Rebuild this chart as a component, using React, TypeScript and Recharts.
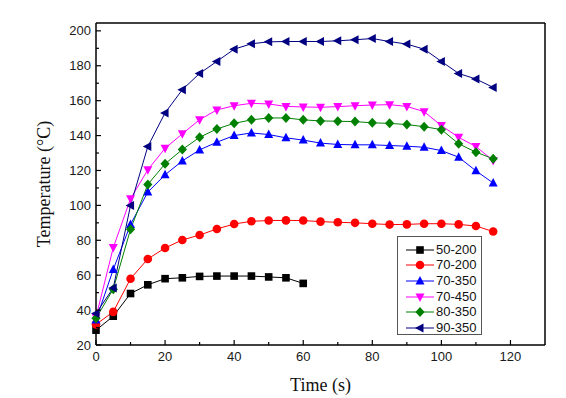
import { LineChart, Line, XAxis, YAxis, ReferenceLine } from "recharts";

// time axis (s)
const times = [0, 5, 10, 15, 20, 25, 30, 35, 40, 45, 50, 55, 60, 65, 70, 75, 80, 85, 90, 95, 100, 105, 110, 115];

// temperatures (°C)
const s50_200 = [28.5, 36.5, 49.5, 54.5, 58, 58.5, 59.3, 59.5, 59.5, 59.5, 59, 58.5, 55.3];
const s70_200 = [31.8, 39, 58, 69.3, 75.6, 80.2, 83, 86.5, 89.3, 90.9, 91.3, 91.4, 91.3, 90.7, 90.3, 90, 89.5, 89, 89.1, 89.5, 89.5, 89.1, 88.2, 85];
const s70_350 = [34.3, 63.3, 89.1, 107.6, 117.5, 125.5, 131.8, 136.2, 140, 141.5, 140.6, 138.7, 137.4, 135.7, 134.9, 134.7, 134.7, 134.3, 133.9, 133.3, 131.4, 127.6, 119.8, 112.8];
const s70_450 = [36, 75.8, 103.8, 120.4, 132.7, 141, 149.1, 154.7, 157.1, 158.5, 158.1, 156.7, 156.4, 156.2, 156.6, 157.1, 157.5, 157.7, 156.7, 153.7, 145.7, 139, 133.7, 125.7];
const s80_350 = [35.3, 52, 86.3, 112, 123.8, 132, 139, 143.8, 147, 149, 150.1, 150.1, 149, 148.4, 148.2, 148, 147.3, 147, 146.3, 145.1, 143.4, 135.3, 130.5, 126.7];
const s90_350 = [38.1, 52.7, 100, 133.7, 153, 166.3, 175.6, 182.5, 189.5, 192.6, 193.7, 193.9, 193.9, 193.9, 194.3, 194.9, 195.6, 193.9, 192.4, 189.5, 182.5, 175.6, 172.4, 167.6];

const xTicks = [0, 10, 20, 30, 40, 50, 60, 70, 80, 90, 100, 110, 120];
const yTicks = [20, 30, 40, 50, 60, 70, 80, 90, 100, 110, 120, 130, 140, 150, 160, 170, 180, 190, 200];
const X_MAX = 130;
const Y_MIN = 20;
const Y_MAX = 204.5;

type Shape = "square" | "circle" | "up" | "down" | "diamond" | "left";

const series: { key: string; name: string; color: string; shape: Shape; values: number[] }[] = [
  { key: "a", name: "50-200", color: "#000000", shape: "square", values: s50_200 },
  { key: "b", name: "70-200", color: "#ff0000", shape: "circle", values: s70_200 },
  { key: "c", name: "70-350", color: "#0000ff", shape: "up", values: s70_350 },
  { key: "d", name: "70-450", color: "#ff00ff", shape: "down", values: s70_450 },
  { key: "e", name: "80-350", color: "#008000", shape: "diamond", values: s80_350 },
  { key: "f", name: "90-350", color: "#000080", shape: "left", values: s90_350 },
];

const rows = times.map((t, i) => {
  const row: Record<string, number> = { t };
  series.forEach((s) => {
    if (i < s.values.length) row[s.key] = s.values[i];
  });
  return row;
});

const tickFont = "'Liberation Sans', Arial, sans-serif";
const labelFont = "'Liberation Serif', 'Times New Roman', serif";

function Marker({ cx, cy, shape, color }: { cx: number; cy: number; shape: Shape; color: string }) {
  if (cx == null || cy == null || isNaN(cx) || isNaN(cy)) return null;
  const r = 4.5;
  switch (shape) {
    case "square":
      return <rect x={cx - 3.8} y={cy - 3.8} width={7.6} height={7.6} fill={color} />;
    case "circle":
      return <circle cx={cx} cy={cy} r={4.3} fill={color} />;
    case "up":
      return <polygon points={`${cx},${cy - r - 0.5} ${cx - r},${cy + r - 1} ${cx + r},${cy + r - 1}`} fill={color} />;
    case "down":
      return <polygon points={`${cx},${cy + r + 0.5} ${cx - r},${cy - r + 1} ${cx + r},${cy - r + 1}`} fill={color} />;
    case "diamond":
      return <polygon points={`${cx},${cy - 5} ${cx + 4.6},${cy} ${cx},${cy + 5} ${cx - 4.6},${cy}`} fill={color} />;
    case "left":
      return <polygon points={`${cx - r - 0.5},${cy} ${cx + r - 1},${cy - r} ${cx + r - 1},${cy + r}`} fill={color} />;
  }
  return null;
}

function XTick(props: any) {
  const { x, y, payload } = props;
  const v = payload.value as number;
  const major = v % 20 === 0;
  return (
    <g>
      <line x1={x} y1={y} x2={x} y2={y - (major ? 5 : 3)} stroke="#000" strokeWidth={1.2} />
      {major && (
        <text x={x} y={y + 16} textAnchor="middle" fontSize={13} fontFamily={tickFont} fill="#1a1a1a">
          {v}
        </text>
      )}
    </g>
  );
}

function YTick(props: any) {
  const { x, y, payload } = props;
  const v = payload.value as number;
  const major = v % 20 === 0;
  return (
    <g>
      <line x1={x} y1={y} x2={x + (major ? 5 : 3)} y2={y} stroke="#000" strokeWidth={1.2} />
      {major && (
        <text x={x - 5} y={y + 4.5} textAnchor="end" fontSize={13} fontFamily={tickFont} fill="#1a1a1a">
          {v}
        </text>
      )}
    </g>
  );
}

function LegendBox() {
  return (
    <div
      style={{
        position: "absolute",
        left: 397,
        top: 236,
        width: 85,
        height: 99,
        border: "1px solid #555",
        background: "#fff",
        boxSizing: "border-box",
        paddingTop: 5,
      }}
    >
      {series.map((s) => (
        <div key={s.key} style={{ display: "flex", alignItems: "center", height: 15.6 }}>
          <svg width={38} height={14} style={{ display: "block", flex: "none" }}>
            <line x1={8} y1={7} x2={36} y2={7} stroke={s.color} strokeWidth={1} />
            <Marker cx={22} cy={7} shape={s.shape} color={s.color} />
          </svg>
          <span style={{ fontFamily: tickFont, fontSize: 13, color: "#111", lineHeight: "14px", whiteSpace: "nowrap" }}>
            {s.name}
          </span>
        </div>
      ))}
    </div>
  );
}

export default function App() {
  return (
    <div style={{ position: "absolute", left: 0, top: 0, width: 566, height: 398, background: "#fff" }}>
      <LineChart width={566} height={398} data={rows} margin={{ top: 23, right: 21, bottom: 23, left: 36 }}>
        <XAxis
          dataKey="t"
          type="number"
          domain={[0, X_MAX]}
          ticks={xTicks}
          interval={0}
          tickSize={0}
          tickMargin={0}
          tickLine={false}
          tick={<XTick />}
          height={30}
          axisLine={{ stroke: "#000", strokeWidth: 1.5 }}
        />
        <YAxis
          type="number"
          domain={[Y_MIN, Y_MAX]}
          ticks={yTicks}
          interval={0}
          tickSize={0}
          tickMargin={0}
          tickLine={false}
          tick={<YTick />}
          width={60}
          axisLine={{ stroke: "#000", strokeWidth: 1.5 }}
          allowDataOverflow
        />
        <ReferenceLine y={Y_MAX} stroke="#000" strokeWidth={1.5} />
        <ReferenceLine x={X_MAX} stroke="#000" strokeWidth={1.5} />
        {series.map((s) => (
          <Line
            key={s.key}
            dataKey={s.key}
            name={s.name}
            stroke={s.color}
            strokeWidth={1}
            isAnimationActive={false}
            connectNulls={false}
            dot={(p: any) => <Marker key={`${s.key}-${p.index}`} cx={p.cx} cy={p.cy} shape={s.shape} color={s.color} />}
          />
        ))}
      </LineChart>
      <LegendBox />
      <div
        style={{
          position: "absolute",
          left: 96,
          width: 449,
          top: 375,
          textAlign: "center",
          fontFamily: labelFont,
          fontSize: 18,
          lineHeight: "20px",
          color: "#111",
        }}
      >
        Time (s)
      </div>
      <div
        style={{
          position: "absolute",
          left: 44,
          top: 184,
          transform: "translate(-50%, -50%) rotate(-90deg)",
          whiteSpace: "nowrap",
          fontFamily: labelFont,
          fontSize: 18,
          color: "#111",
        }}
      >
        Temperature (°C)
      </div>
    </div>
  );
}
